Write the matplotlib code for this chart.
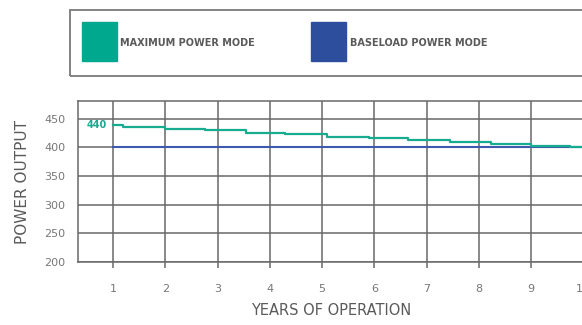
import matplotlib.pyplot as plt
from matplotlib.patches import Rectangle

# data
years = [1, 2, 3, 4, 5, 6, 7, 8, 9, 10]
y_ticks = [200, 250, 300, 350, 400, 450]
max_step_x = [1.0, 1.2, 2.0, 2.77, 3.54, 4.3, 5.1, 5.9, 6.64, 7.44, 8.23, 9.0, 9.75, 10.1]
max_power = [440, 436, 433, 430, 426, 423, 419, 417, 413, 410, 406, 402, 400, 400]
base_x = [1, 10.1]
base_power = [400, 400]

green = '#17ab90'
blue = '#3d5aae'
grid_c = '#686868'
text_c = '#5a5a5a'

fig = plt.figure(figsize=(5.82, 3.25), dpi=100)
ax = fig.add_axes([0.134, 0.194, 0.87, 0.495])

ax.plot(base_x, base_power, color=blue, lw=1.5, zorder=3)
ax.step(max_step_x, max_power, where='post', color=green, lw=1.6, zorder=4)
ax.text(0.88, 439, '440', color=green, fontsize=7, fontweight='bold',
        ha='right', va='center')

ax.set_xlim(0.33, 10.02)
ax.set_ylim(200, 481)
ax.set_xticks(years)
ax.set_yticks(y_ticks)
ax.grid(True, color=grid_c, lw=1.1)
ax.set_axisbelow(True)
for s in ['left', 'bottom', 'top']:
    ax.spines[s].set_color(grid_c)
    ax.spines[s].set_linewidth(1.1)
ax.spines['right'].set_visible(False)
ax.tick_params(axis='x', length=4, width=1.1, color=grid_c, pad=12,
               labelsize=8, labelcolor='#777777')
ax.tick_params(axis='y', length=0, pad=9, labelsize=8, labelcolor='#777777')

ax.set_ylabel('POWER OUTPUT', fontsize=11, color=text_c, labelpad=10)
ax.set_xlabel('YEARS OF OPERATION', fontsize=10.5, color=text_c, labelpad=6)

# legend box drawn in pixel-ish figure coords
W, H = 582, 325
def fx(px):
    return px / W
def fy(py):
    return 1 - py / H

fig.patches.append(Rectangle((fx(70), fy(76)), fx(530), 66 / H,
                             transform=fig.transFigure, fill=False,
                             edgecolor='#7a7a7a', lw=1.3))
fig.patches.append(Rectangle((fx(82), fy(61)), 35 / W, 39 / H,
                             transform=fig.transFigure, color='#00a98e'))
fig.patches.append(Rectangle((fx(311), fy(61)), 35 / W, 39 / H,
                             transform=fig.transFigure, color='#2d4e9c'))
fig.text(fx(120), fy(43), 'MAXIMUM POWER MODE', fontsize=7, fontweight='bold',
         color=text_c, va='center')
fig.text(fx(350), fy(43), 'BASELOAD POWER MODE', fontsize=7, fontweight='bold',
         color=text_c, va='center')

fig.savefig('out.png', dpi=100)
